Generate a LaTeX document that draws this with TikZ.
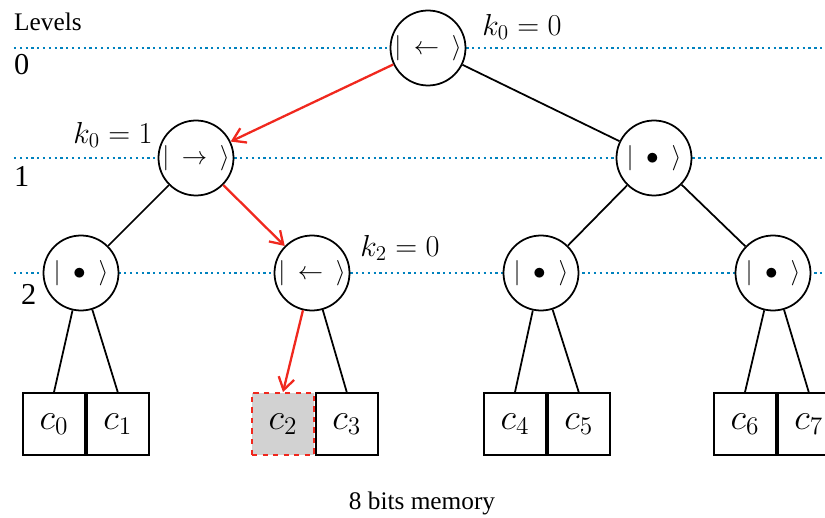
\documentclass[tikz,border=0pt]{standalone}
\usepackage{fontspec}
\setmainfont{Liberation Serif}
\usetikzlibrary{positioning,arrows.meta}
\definecolor{levelblue}{RGB}{0,130,190}
\definecolor{pathred}{RGB}{240,40,30}
\begin{document}
\begin{tikzpicture}

\tikzset{qnode/.style={circle,minimum size=1.5cm,inner sep=0pt,draw,line width=1pt,fill=white,font=\Large},}
\tikzset{cell/.style={rectangle,minimum size=1.24cm,inner sep=0pt,draw,line width=1pt,fill=white,font=\huge},}
\tikzset{hitcell/.style={cell,fill=gray!35,draw=pathred,dashed},}
\tikzset{levelline/.style={levelblue,dotted,line width=1.3pt},}
\tikzset{edge/.style={line width=1pt},}
\tikzset{pathedge/.style={->,>={Straight Barb[length=7pt,width=9pt]},pathred,line width=1.3pt},}

\useasboundingbox (0,0) rectangle (16.5,10.36);

  %levels
  \draw (0.16,9.92) node[anchor=west,font=\Large](lvl) {Levels};
  \draw (0.16,9.06) node[anchor=west,font=\LARGE](lvl0) {0};
  \draw (0.16,6.84) node[anchor=west,font=\LARGE](lvl1) {1};
  \draw (0.30,4.48) node[anchor=west,font=\LARGE](lvl2) {2};
  \draw[levelline] (0.28,9.40) -- (16.5,9.40);
  \draw[levelline] (0.28,7.20) -- (16.5,7.20);
  \draw[levelline] (0.28,4.90) -- (16.5,4.90);

  \draw (8.56,9.40) node[qnode](root) {$\bigl|\enspace\leftarrow\enspace\bigr\rangle$};
  \draw (3.92,7.20) node[qnode](l1a) {$\bigl|\enspace\rightarrow\enspace\bigr\rangle$};
  \draw (13.08,7.20) node[qnode](l1b) {$\bigl|\enspace\bullet\enspace\bigr\rangle$};
  \draw (1.62,4.90) node[qnode](l2a) {$\bigl|\enspace\bullet\enspace\bigr\rangle$};
  \draw (6.24,4.90) node[qnode](l2b) {$\bigl|\enspace\leftarrow\enspace\bigr\rangle$};
  \draw (10.82,4.90) node[qnode](l2c) {$\bigl|\enspace\bullet\enspace\bigr\rangle$};
  \draw (15.46,4.90) node[qnode](l2d) {$\bigl|\enspace\bullet\enspace\bigr\rangle$};

  %memory cells
  \draw (1.08,1.88) node[cell](c0) {$c_0$};
  \node[cell,right=0pt of c0](c1) {$c_1$};
  \draw (5.66,1.88) node[hitcell](c2) {$c_2$};
  \node[cell,right=0pt of c2](c3) {$c_3$};
  \draw (10.30,1.88) node[cell](c4) {$c_4$};
  \node[cell,right=0pt of c4](c5) {$c_5$};
  \draw (14.90,1.88) node[cell](c6) {$c_6$};
  \node[cell,right=0pt of c6](c7) {$c_7$};

  %labels
  \draw (10.44,9.82) node[font=\LARGE](k0a) {$k_0 = 0$};
  \draw (2.26,7.66) node[font=\LARGE](k0b) {$k_0 = 1$};
  \draw (8.00,5.40) node[font=\LARGE](k2) {$k_2 = 0$};
  \draw (8.44,0.30) node[font=\Large](mem) {8 bits memory};

  %edges
  \draw[edge] (root) -- (l1b);
  \draw[edge] (l1a) -- (l2a);
  \draw[edge] (l1b) -- (l2c);
  \draw[edge] (l1b) -- (l2d);
  \draw[edge] (l2a) -- (c0.north);
  \draw[edge] (l2a) -- (c1.north);
  \draw[edge] (l2b) -- (c3.north);
  \draw[edge] (l2c) -- (c4.north);
  \draw[edge] (l2c) -- (c5.north);
  \draw[edge] (l2d) -- (c6.north);
  \draw[edge] (l2d) -- (c7.north);

  %path of the query
  \draw[pathedge] (root) -- (l1a);
  \draw[pathedge] (l1a) -- (l2b);
  \draw[pathedge] (l2b) -- (c2.north);

\end{tikzpicture}
\end{document}
